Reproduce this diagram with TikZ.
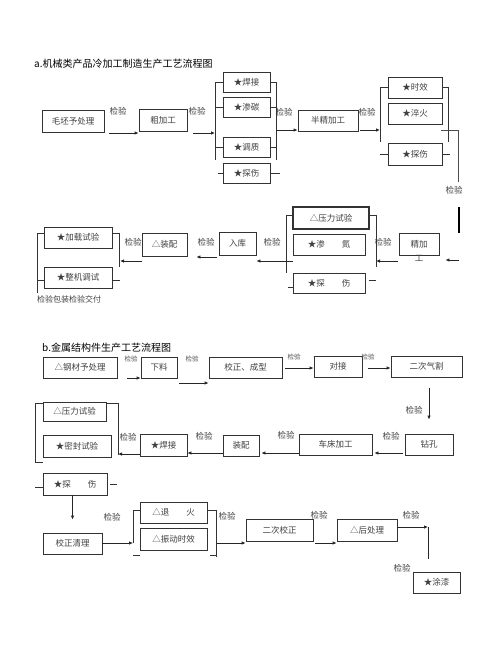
\documentclass[tikz,border=0pt]{standalone}
\usepackage{fontspec}
\newfontfamily\cjk{Noto Sans CJK SC}
\usetikzlibrary{arrows.meta,calc}

\begin{document}
\begin{tikzpicture}[x=1pt,y=-1pt,
  box/.style={draw=black!80, line width=0.8pt, inner sep=0pt, font=\cjk\fontsize{8.5}{9}\selectfont, text=black!75},
  lab/.style={inner sep=0pt, font=\cjk\fontsize{8.5}{9}\selectfont, text=black!75},
  slab/.style={inner sep=0pt, font=\cjk\fontsize{6.5}{7}\selectfont, text=black!70},
  arr/.style={-{Latex[length=4pt,width=3.5pt]}, line width=0.9pt, black!85},
  brk/.style={line width=0.8pt, black!80}]
  \fill[white] (0,0) rectangle (480,648);
  \useasboundingbox (0,0) rectangle (480,648);

  % a. cold working
  \node[anchor=west, inner sep=0pt, font=\cjk\fontsize{10}{12}\selectfont] (titA) at (34,64) {a.机械类产品冷加工制造生产工艺流程图};

  \node[box, minimum width=62, minimum height=22] (pre) at (73,121) {毛坯予处理};
  \node[box, minimum width=48, minimum height=22] (rough) at (163,120) {粗加工};
  \node[box, minimum width=47, minimum height=20] (hj) at (246.5,82) {★焊接};
  \node[box, minimum width=47, minimum height=20] (sc) at (246.5,107) {★渗碳};
  \node[box, minimum width=47, minimum height=20] (tz) at (246.5,147) {★调质};
  \node[box, minimum width=47, minimum height=20] (ts1) at (246.5,173) {★探伤};
  \node[box, minimum width=60, minimum height=21] (semi) at (328,120.5) {半精加工};
  \node[box, minimum width=54, minimum height=21] (sx) at (415,87.5) {★时效};
  \node[box, minimum width=54, minimum height=21] (cf) at (415,113.5) {★淬火};
  \node[box, minimum width=54, minimum height=22] (ts2) at (415,154) {★探伤};
  \node[box, minimum width=40, minimum height=22] (fine) at (419,244) {精加};
  \node[lab] (fine2) at (419,258) {工};
  \node[box, minimum width=76, minimum height=22, line width=1.2pt] (yl1) at (331,218) {△压力试验};
  \node[box, minimum width=72, minimum height=21] (sd) at (329,244.5) {★渗　　氮};
  \node[box, minimum width=72, minimum height=20] (ts3) at (329,283) {★探　　伤};
  \node[box, minimum width=37, minimum height=23] (ruku) at (237.5,243.5) {入库};
  \node[box, minimum width=45, minimum height=23] (zp1) at (164.5,244.5) {△装配};
  \node[box, minimum width=68, minimum height=21] (jz) at (78,237.5) {★加载试验};
  \node[box, minimum width=68, minimum height=21] (zj) at (78,277.5) {★整机调试};
  \node[lab, anchor=west, font=\cjk\fontsize{8}{9}\selectfont] (jf) at (37,299) {检验包装检验交付};

  \node[lab] (ca1) at (118,111) {检验};
  \node[lab] (ca2) at (197,111) {检验};
  \node[lab] (ca3) at (284,112) {检验};
  \node[lab] (ca4) at (367,112) {检验};
  \node[lab] (ca5) at (454,190) {检验};
  \node[lab] (ca6) at (383,242) {检验};
  \node[lab] (ca7) at (272,242) {检验};
  \node[lab] (ca8) at (206,242) {检验};
  \node[lab] (ca9) at (133,242) {检验};

  \coordinate (b1in) at (215,133);
  \coordinate (b1out) at (276,130);
  \coordinate (b2in) at (380,130);
  \coordinate (b2out) at (441,130);
  \coordinate (r1) at (459,260);
  \coordinate (b3in) at (376,261);
  \coordinate (b3out) at (293,261);
  \coordinate (b4in) at (120,261);

  \draw[arr] ([xshift=5]pre.east |- 0,133) -- (rough.west |- 0,133);
  \draw[arr] ([xshift=6]rough.east |- 0,133) -- (b1in);
  \draw[brk] (hj.west) -| (215,160);
  \draw[brk] (sc.west) -- +(-8,0);
  \draw[brk] (tz.west) -- +(-8,0);
  \draw[brk] (ts1.west) -- +(-5,0);
  \draw[brk] (hj.east) -| (276,160);
  \draw[brk] (sc.east) -- +(6,0);
  \draw[brk] (tz.east) -- +(6,0);
  \draw[brk] (ts1.east) -- +(10,0);
  \draw[arr] (b1out) -- (semi.west |- b1out);
  \draw[arr] ([xshift=2]semi.east |- b2in) -- (b2in);
  \draw[brk] (sx.west) -| (380,142);
  \draw[brk] (ts2.west) -- +(-8,0);
  \draw[brk] (sx.east) -| (448,142);
  \draw[brk] (ts2.east) -- +(8,0);
  \draw[line width=0.5pt, black!70] (b2out) -- (458,130) -- (458,182);
  \draw[line width=1.2pt] (459,207) -- (459,233);
  \draw[arr] (r1) -- ([xshift=6]fine.east |- r1);
  \draw[arr] ([xshift=-1]fine.west |- b3in) -- (b3in);
  \draw[brk] (yl1.west |- 0,215) -- (286,215) -- (286,273);
  \draw[brk] (ts3.west |- 0,287) -- +(-5,0);
  \draw[brk] (yl1.east |- 0,215) -- (376,215) -- (376,267);
  \draw[brk] ([xshift=4]ts3.east |- 0,280) -- +(7,0);
  \draw[arr] (b3out) -- (ruku.east |- b3out);
  \draw[arr] ([xshift=-2]ruku.west |- 0,257) -- ([xshift=9]zp1.east |- 0,257);
  \draw[arr] (zp1.west |- b4in) -- (b4in);
  \draw[brk] (jz.west |- 0,233) -- (37,233) -- (37,293);
  \draw[brk] (zj.west |- 0,280) -- (37,280);
  \draw[brk] (jz.east |- 0,233) -- (119,233) -- (119,267);
  \draw[brk] (zj.east |- 0,280) -- +(8,0);

  % b. metal structures
  \node[anchor=west, inner sep=0pt, font=\cjk\fontsize{10}{12}\selectfont] (titB) at (42,348) {b.金属结构件生产工艺流程图};

  \node[box, minimum width=74, minimum height=21] (steel) at (80,367.5) {△钢材予处理};
  \node[box, minimum width=36, minimum height=21] (cut) at (159,367.5) {下料};
  \node[box, minimum width=73, minimum height=21] (shape) at (245.5,367.5) {校正、成型};
  \node[box, minimum width=48, minimum height=21] (butt) at (338,366.5) {对接};
  \node[box, minimum width=71, minimum height=21] (gas) at (426.5,366.5) {二次气割};
  \node[box, minimum width=48, minimum height=21] (drill) at (429,444.5) {钻孔};
  \node[box, minimum width=73, minimum height=21] (lathe) at (335.5,444.5) {车床加工};
  \node[box, minimum width=36, minimum height=21] (zp2) at (241,445.5) {装配};
  \node[box, minimum width=47, minimum height=22] (weld) at (163.5,445) {★焊接};
  \node[box, minimum width=63, minimum height=19] (yl2) at (74.5,411.5) {△压力试验};
  \node[box, minimum width=68, minimum height=22] (mf) at (77,446) {★密封试验};
  \node[box, minimum width=64, minimum height=22] (ts4) at (75,484) {★探　　伤};
  \node[box, minimum width=59, minimum height=21] (clean) at (72.5,543.5) {校正清理};
  \node[box, minimum width=67, minimum height=21] (th) at (173.5,512.5) {△退　　火};
  \node[box, minimum width=67, minimum height=22] (zd) at (173.5,539) {△振动时效};
  \node[box, minimum width=67, minimum height=22] (sec) at (279.5,530) {二次校正};
  \node[box, minimum width=60, minimum height=22] (post) at (367,530) {△后处理};
  \node[box, minimum width=47, minimum height=21] (paint) at (436.5,582.5) {★涂漆};

  \node[slab] (cb1) at (131,358.5) {检验};
  \node[slab] (cb2) at (192,358.5) {检验};
  \node[slab] (cb3) at (294,357) {检验};
  \node[slab] (cb4) at (368,357) {检验};
  \node[lab] (cb5) at (414,410) {检验};
  \node[lab] (cb6) at (391,436) {检验};
  \node[lab] (cb7) at (286,435) {检验};
  \node[lab] (cb8) at (204,436) {检验};
  \node[lab] (cb9) at (128,437) {检验};
  \node[lab] (cb10) at (112,517) {检验};
  \node[lab] (cb11) at (227,516) {检验};
  \node[lab] (cb12) at (319,515) {检验};
  \node[lab] (cb13) at (411,515) {检验};
  \node[lab] (cb14) at (402,568) {检验};

  \coordinate (b5in) at (118,454);
  \coordinate (b6in) at (133,543);
  \coordinate (b6out) at (217,543);
  \coordinate (t1) at (428,527);

  \draw[arr] ([xshift=10]steel.east |- 0,378) -- (cut.west |- 0,378);
  \draw[arr] ([xshift=2]cut.east |- 0,383) -- (shape.west |- 0,383);
  \draw[arr] ([xshift=3]shape.east |- 0,368) -- (butt.west |- 0,368);
  \draw[arr] ([xshift=6]butt.east |- 0,368) -- (gas.west |- 0,368);
  \draw[arr] ($(drill.north |- gas.south)+(0,11)$) -- ([yshift=14pt]drill.north);
  \draw[arr] ([xshift=-2]drill.west |- 0,453) -- ([xshift=2]lathe.east |- 0,453);
  \draw[arr] (lathe.west |- 0,453) -- ([xshift=2]zp2.east |- 0,453);
  \draw[arr] (zp2.west |- 0,453) -- (weld.east |- 0,453);
  \draw[arr] (weld.west |- b5in) -- (b5in);
  \draw[brk] (yl2.west |- 0,403) -- (35,403) -- (35,462) -- (43,462);
  \draw[brk] (yl2.east |- 0,403) -- (118,403) -- (118,455);
  \draw[brk] (ts4.west |- 0,487) -- +(-8,0);
  \draw[brk] ([xshift=3]ts4.east |- 0,484) -- +(7,0);
  \draw[arr] (clean.north |- ts4.south) -- ([yshift=13pt]clean.north);
  \draw[arr] (clean.east |- b6in) -- (b6in);
  \draw[brk] (th.west |- 0,510) -- (133,510) -- (133,543);
  \draw[brk] (133,555) -- (140,555);
  \draw[brk] (th.east |- 0,510) -- (216,510) -- (216,557);
  \draw[brk] (210,555) -- (216,555);
  \draw[arr] (b6out) -- (sec.west |- b6out);
  \draw[arr] ([xshift=2]sec.east |- 0,543) -- (post.west |- 0,543);
  \draw[arr] (post.east |- t1) -- (t1);
  \draw[line width=0.9pt, black!85] (t1) -- (428,559);
\end{tikzpicture}
\end{document}
